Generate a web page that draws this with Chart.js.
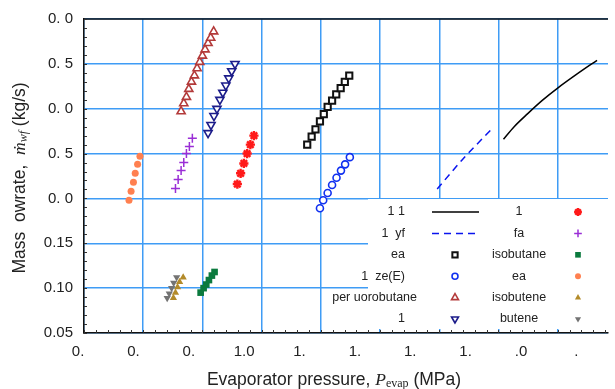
<!DOCTYPE html>
<html>
<head>
<meta charset="utf-8">
<title>Mass flowrate vs evaporator pressure</title>
<script src="https://cdn.jsdelivr.net/npm/chart.js@4/dist/chart.umd.min.js"></script>
<style>
  html, body { margin: 0; padding: 0; background: #fff; overflow: hidden; }
</style>
</head>
<body>
<canvas id="chart" width="615" height="389"></canvas>
<script>
// tick labels (as printed in the picture)
const xTickValues = [0.4, 0.6, 0.8, 1.0, 1.2, 1.4, 1.6, 1.8, 2.0, 2.2];
const xTickLabels = ['0.', '0.', '0.', '1.0', '1.', '1.', '1.', '1.', '.0', '.'];
const yTickLabels = ['0.05', '0.10', '0.15', '0. 0', '0. 5', '0. 0', '0. 5', '0. 0'];

// series: evaporator pressure (MPa) / mass flowrate (kg/s)
const s11P = [1.817, 1.853, 1.897, 1.947, 2.000, 2.067, 2.133];
const s11M = [0.266, 0.280, 0.294, 0.309, 0.323, 0.339, 0.354];

const yfP = [1.593, 1.677, 1.777];
const yfM = [0.2105, 0.2428, 0.2774];

const eaBlackP = [1.154, 1.169, 1.182, 1.197, 1.210, 1.223, 1.238, 1.252, 1.267, 1.281, 1.296];
const eaBlackM = [0.260, 0.269, 0.277, 0.286, 0.294, 0.302, 0.309, 0.316, 0.323, 0.330, 0.337];

const zeP = [1.197, 1.208, 1.223, 1.238, 1.253, 1.268, 1.282, 1.298];
const zeM = [0.189, 0.198, 0.206, 0.215, 0.223, 0.231, 0.238, 0.246];

const perP = [0.728, 0.737, 0.746, 0.754, 0.763, 0.773, 0.782, 0.791, 0.800, 0.809, 0.819, 0.828, 0.838];
const perM = [0.297, 0.306, 0.313, 0.322, 0.330, 0.337, 0.345, 0.352, 0.359, 0.366, 0.373, 0.379, 0.386];

const navyP = [0.819, 0.829, 0.839, 0.849, 0.859, 0.869, 0.879, 0.889, 0.899, 0.910];
const navyM = [0.273, 0.282, 0.292, 0.300, 0.310, 0.318, 0.326, 0.334, 0.342, 0.350];

const starP = [0.918, 0.929, 0.940, 0.951, 0.962, 0.974];
const starM = [0.216, 0.228, 0.239, 0.250, 0.260, 0.270];

const faP = [0.709, 0.718, 0.728, 0.737, 0.746, 0.756, 0.766];
const faM = [0.211, 0.221, 0.231, 0.240, 0.250, 0.258, 0.267];

const isobutaneP = [0.794, 0.804, 0.813, 0.822, 0.832, 0.841];
const isobutaneM = [0.095, 0.100, 0.104, 0.109, 0.114, 0.118];

const eaOrangeP = [0.552, 0.559, 0.567, 0.573, 0.581, 0.589];
const eaOrangeM = [0.198, 0.208, 0.218, 0.228, 0.238, 0.247];

const isobuteneP = [0.702, 0.709, 0.716, 0.723, 0.735];
const isobuteneM = [0.089, 0.095, 0.101, 0.107, 0.112];

const buteneP = [0.681, 0.688, 0.696, 0.703, 0.713];
const buteneM = [0.089, 0.094, 0.100, 0.106, 0.112];

const GRID = '#3f9cf5';
const TEXT = '#222';
const SANS = '"Liberation Sans", Arial, sans-serif';
const SERIF = '"Liberation Serif", "DejaVu Serif", serif';

function pts(P, M) {
  return P.map((p, i) => ({ x: p, y: M[i] }));
}

function lineSet(label, P, M, color, dash) {
  return {
    label, data: pts(P, M), showLine: true, borderColor: color, borderWidth: 1.5,
    borderDash: dash || [], pointRadius: 0, tension: 0.3, fill: false
  };
}

function markSet(label, P, M, style, color, fill, radius, bw, rot) {
  return {
    label, data: pts(P, M), showLine: false, pointStyle: style,
    pointRadius: radius, pointBorderWidth: bw, pointRotation: rot || 0,
    borderColor: color, backgroundColor: fill,
    pointBorderColor: color, pointBackgroundColor: fill
  };
}

const datasets = [
  lineSet('1 1', s11P, s11M, '#000000'),
  lineSet('1  yf', yfP, yfM, '#0a14ee', [7, 5]),
  markSet('ea', eaBlackP, eaBlackM, 'rect', '#111111', '#ffffff', 4.4, 2),
  markSet('1  ze(E)', zeP, zeM, 'circle', '#1030f0', '#ffffff', 3.5, 1.6),
  markSet('per uorobutane', perP, perM, 'triangle', '#b33a3a', '#ffffff', 4.7, 1.6),
  markSet('1', navyP, navyM, 'triangle', '#1c1c8a', '#ffffff', 4.7, 1.6, 180),
  markSet('1', starP, starM, 'star', '#ff1a1a', '#ff1a1a', 4.6, 2.4),
  markSet('fa', faP, faM, 'cross', '#9a2ed6', '#9a2ed6', 4.5, 1.5),
  markSet('isobutane', isobutaneP, isobutaneM, 'rect', '#0b7a3e', '#0b7a3e', 4.7, 0),
  markSet('ea', eaOrangeP, eaOrangeM, 'circle', '#ff8050', '#ff8050', 3.5, 0),
  markSet('isobutene', isobuteneP, isobuteneM, 'triangle', '#b38b2a', '#b38b2a', 4.2, 0),
  markSet('butene', buteneP, buteneM, 'triangle', '#737373', '#737373', 4.2, 0, 180)
];

// legend table inside the plot
const legendBox = {
  id: 'legendBox',
  afterDatasetsDraw(chart) {
    const ctx = chart.ctx;
    ctx.save();
    ctx.fillStyle = '#ffffff';
    ctx.fillRect(368, 199, 245, 130);
    ctx.font = '12.5px ' + SANS;
    ctx.textBaseline = 'middle';
    chart.data.datasets.forEach((ds, i) => {
      const col = i < 6 ? 0 : 1;
      const y = 212 + (i % 6) * 21.4;
      ctx.fillStyle = TEXT;
      if (col === 0) {
        // long name sits a little further right, as in the source
        const long = ds.label.length > 10;
        ctx.textAlign = 'right';
        ctx.fillText(ds.label, long ? 417 : 405, y);
      } else {
        ctx.textAlign = 'center';
        ctx.fillText(ds.label, 519, y);
      }
      const mx = col === 0 ? 455 : 578;
      if (ds.showLine) {
        ctx.strokeStyle = ds.borderColor;
        ctx.lineWidth = ds.borderWidth;
        ctx.setLineDash(ds.borderDash);
        ctx.beginPath();
        ctx.moveTo(432, y);
        ctx.lineTo(479, y);
        ctx.stroke();
        ctx.setLineDash([]);
      } else {
        ctx.fillStyle = ds.pointBackgroundColor;
        ctx.strokeStyle = ds.pointBorderColor;
        ctx.lineWidth = ds.pointBorderWidth;
        Chart.helpers.drawPoint(ctx, {
          pointStyle: ds.pointStyle, rotation: ds.pointRotation,
          radius: ds.pointRadius * 0.85, borderWidth: ds.pointBorderWidth
        }, mx, y);
      }
    });
    ctx.restore();
  }
};

function drawPieces(ctx, pieces) {
  let total = 0;
  pieces.forEach(p => { ctx.font = p.font; p.w = ctx.measureText(p.text).width; total += p.w; });
  let x = -total / 2;
  pieces.forEach(p => {
    ctx.font = p.font;
    ctx.fillText(p.text, x, p.dy || 0);
    x += p.w;
  });
}

// frame top line, inner minor ticks and axis titles
const frameAndTitles = {
  id: 'frameAndTitles',
  afterDraw(chart) {
    const ctx = chart.ctx;
    const area = chart.chartArea;
    const xs = chart.scales.x;
    const ys = chart.scales.y;
    ctx.save();
    ctx.strokeStyle = '#111';
    ctx.lineWidth = 1.5;
    ctx.beginPath();
    ctx.moveTo(area.left, area.top);
    ctx.lineTo(area.right, area.top);
    ctx.stroke();

    ctx.lineWidth = 1;
    ctx.strokeStyle = '#333';
    ctx.beginPath();
    for (let k = 0; k <= 35; k++) {
      const py = Math.round(ys.getPixelForValue(0.05 + k * 0.01)) + 0.5;
      ctx.moveTo(area.left, py);
      ctx.lineTo(area.left + 3, py);
    }
    for (let k = 0; k <= 45; k++) {
      const px = Math.round(xs.getPixelForValue(0.4 + k * 0.04)) + 0.5;
      if (px > area.right) break;
      ctx.moveTo(px, area.bottom);
      ctx.lineTo(px, area.bottom - 3);
    }
    ctx.stroke();

    ctx.fillStyle = TEXT;
    ctx.textBaseline = 'middle';
    ctx.textAlign = 'left';
    ctx.save();
    ctx.translate(334, 380);
    drawPieces(ctx, [
      { text: 'Evaporator pressure, ', font: '17.5px ' + SANS },
      { text: 'P', font: 'italic 17.5px ' + SERIF },
      { text: 'evap', font: '12px ' + SERIF, dy: 4 },
      { text: ' (MPa)', font: '17.5px ' + SANS }
    ]);
    ctx.restore();
    ctx.save();
    ctx.translate(20, 178);
    ctx.rotate(-Math.PI / 2);
    drawPieces(ctx, [
      { text: 'Mass  owrate,  ', font: '17.5px ' + SANS },
      { text: 'ṁ', font: 'italic 17.5px ' + SERIF },
      { text: 'wf', font: 'italic 12px ' + SERIF, dy: 4 },
      { text: ' (kg/s)', font: '17.5px ' + SANS }
    ]);
    ctx.restore();
    ctx.restore();
  }
};

new Chart(document.getElementById('chart'), {
  type: 'scatter',
  data: { datasets },
  options: {
    responsive: false,
    animation: false,
    layout: { padding: { top: 19, left: 0, right: 0, bottom: 0 } },
    plugins: { legend: { display: false }, tooltip: { enabled: false } },
    scales: {
      x: {
        type: 'linear', position: 'bottom', weight: 0, min: 0.4, max: 2.17,
        ticks: { display: false, stepSize: 0.2, includeBounds: false },
        grid: { color: GRID, lineWidth: 1.5, drawTicks: false },
        border: { display: true, color: '#111', width: 1.5 },
        afterFit(s) { s.height = 0; s.paddingLeft = 0; s.paddingRight = 0; }
      },
      xl: {
        type: 'linear', position: 'bottom', weight: 1, min: 0.4214, max: 2.3144,
        grid: { display: false, drawTicks: false },
        border: { display: false },
        afterBuildTicks(s) { s.ticks = xTickValues.map(v => ({ value: v })); },
        ticks: {
          autoSkip: false, maxRotation: 0, padding: 10, color: TEXT,
          font: { family: SANS, size: 15 },
          callback: (v, i) => xTickLabels[i]
        },
        afterFit(s) { s.height = 56; s.paddingLeft = 0; s.paddingRight = 0; }
      },
      y: {
        type: 'linear', min: 0.05, max: 0.40,
        ticks: {
          stepSize: 0.05, padding: 11, color: TEXT,
          font: { family: SANS, size: 15 },
          callback: (v, i) => yTickLabels[i]
        },
        grid: { color: GRID, lineWidth: 1.5, drawTicks: false },
        border: { display: true, color: '#111', width: 1.5 },
        afterFit(s) { s.width = 84; s.paddingTop = 0; s.paddingBottom = 0; }
      }
    }
  },
  plugins: [legendBox, frameAndTitles]
});
</script>
</body>
</html>
